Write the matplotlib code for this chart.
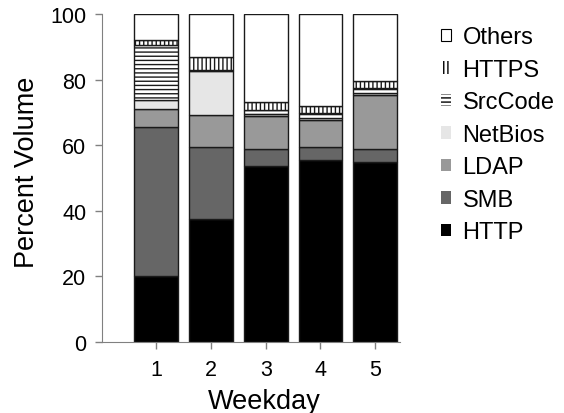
import numpy as np
import matplotlib.pyplot as plt
from matplotlib.patches import Rectangle

plt.rcParams['font.family'] = ['Liberation Sans', 'DejaVu Sans']
plt.rcParams['hatch.linewidth'] = 1.0

# percent volume per protocol for each weekday
days = [1, 2, 3, 4, 5]
http = [20.1, 37.4, 53.6, 55.5, 55.0]
smb = [45.5, 22.1, 5.2, 4.0, 3.8]
ldap = [5.4, 9.7, 10.2, 8.3, 16.5]
netbios = [2.8, 13.4, 0.5, 0.4, 0.5]
srccode = [16.8, 0.2, 1.3, 1.6, 1.5]
https = [1.3, 4.0, 2.3, 2.1, 2.4]

names = ['HTTP', 'SMB', 'LDAP', 'NetBios', 'SrcCode', 'HTTPS', 'Others']
series = [http, smb, ldap, netbios, srccode, https]
others = list(100 - np.sum(series, axis=0))
series.append(others)

colors = ['black', '#666666', '#999999', '#e6e6e6', 'white', 'white', 'white']
hatches = [None, None, None, None, '----', '||||', None]

fig = plt.figure(figsize=(5.64, 4.14), dpi=100)
ax = fig.add_axes([0.180, 0.1715, 0.529, 0.7925])

bottom = np.zeros(len(days))
for vals, c, h in zip(series, colors, hatches):
    ax.bar(days, vals, 0.8, bottom=bottom, color=c, edgecolor='#1a1a1a',
           linewidth=1.0, hatch=h)
    bottom += np.array(vals)

ax.set_xlim(0, 5.45)
ax.set_ylim(0, 100)
ax.set_xticks(days)
ax.set_yticks([0, 20, 40, 60, 80, 100])
ax.tick_params(labelsize=15.5, color='#808080', length=5, width=1)
ax.tick_params(axis='y', pad=6)
ax.tick_params(axis='x', pad=7)
for s in ['top', 'right']:
    ax.spines[s].set_visible(False)
for s in ['left', 'bottom']:
    ax.spines[s].set_color('#808080')
ax.set_xlabel('Weekday', fontsize=19.5)
ax.set_ylabel('Percent Volume', fontsize=19.5)
ax.xaxis.set_label_coords(0.544, -0.14)
ax.yaxis.set_label_coords(-0.205, 0.52)

handles = []
for c, h in zip(colors, hatches):
    if h is not None:
        handles.append(Rectangle((0, 0), 1, 1, facecolor='white', edgecolor='black',
                                 linewidth=0, hatch=h))
    elif c == 'white':
        handles.append(Rectangle((0, 0), 1, 1, facecolor='white', edgecolor='black', linewidth=0.8))
    else:
        handles.append(Rectangle((0, 0), 1, 1, facecolor=c, edgecolor='none'))

ax.legend(handles[::-1], names[::-1], loc='upper left', bbox_to_anchor=(1.137, 0.962),
          frameon=False, fontsize=17, handlelength=0.42, handleheight=0.42,
          handletextpad=0.5, labelspacing=0.445, borderaxespad=0, borderpad=0)

fig.savefig('out.png', dpi=100)
